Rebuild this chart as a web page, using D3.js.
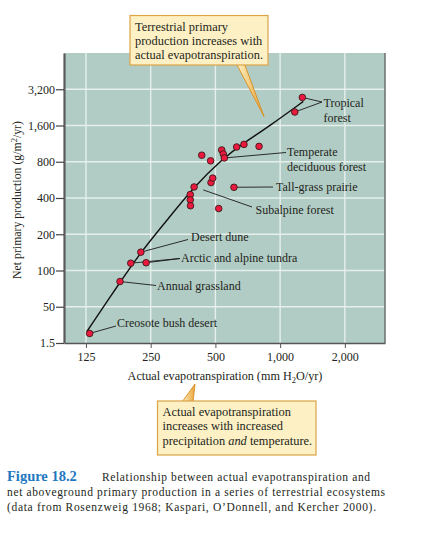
<!DOCTYPE html>
<html>
<head>
<meta charset="utf-8">
<script src="https://cdn.jsdelivr.net/npm/d3@7"></script>
<style>
  body { margin: 0; background: #fff; }
  svg text { font-family: "Liberation Serif", "Times New Roman", serif; fill: #231f20; }
</style>
</head>
<body>
<div id="container"></div>
<script>
/* CONSTANTS AND GLOBALS */
const width = 424,
  height = 535,
  margin = { top: 53, bottom: 192, left: 64, right: 39 },
  radius = 3.3;

/* DATA */
// ecosystems: actual evapotranspiration (mm/yr) vs net primary production (g/m2/yr)
const aet = [130, 180, 202, 225, 238, 382, 382, 383, 398, 432, 475, 477, 486, 518,
  535, 544, 550, 628, 679, 798, 610, 1170, 1269];
const npp = [30, 81, 115, 142, 116, 427, 386, 345, 494, 907, 814, 537, 585, 327,
  1002, 929, 860, 1061, 1115, 1073, 491, 2070, 2736];

// fitted curve as drawn in the figure
const curveAet = [126, 181, 225, 297, 395, 544, 674, 897, 1282];
const curveNpp = [31, 81, 142, 260, 491, 860, 1137, 1594, 2535];

// axis ticks
const xTicks = [125, 250, 500, 1000, 2000];
const xTickLabels = ["125", "250", "500", "1,000", "2,000"];
const yTicks = [25, 50, 100, 200, 400, 800, 1600, 3200];
const yTickLabels = ["1.5", "50", "100", "200", "400", "800", "1,600", "3,200"];

// labelled ecosystems: label lines, which points the leaders go to
const labelNames = [["Tropical", "forest"], ["Temperate", "deciduous forest"], ["Tall-grass prairie"],
  ["Subalpine forest"], ["Desert dune"], ["Arctic and alpine tundra"], ["Annual grassland"],
  ["Creosote bush desert"]];
const labelTargets = [[22, 21], [16], [20], [], [3], [2, 4], [1], [0]];
// subalpine leader ends in the cluster, not on a point
const subalpineTarget = { aet: 439, npp: 467 };

/* SCALES */
const xScale = d3.scaleLog()
  .domain([98.8, 3075])
  .range([margin.left, width - margin.right]);

const yScale = d3.scaleLog()
  .base(2)
  .domain([25, 6400])
  .range([height - margin.bottom, margin.top]);

/* HTML ELEMENTS */
const svg = d3.select("#container")
  .append("svg")
  .attr("width", width)
  .attr("height", height);

const defs = svg.append("defs");
const grad = defs.append("linearGradient")
  .attr("id", "ptr")
  .attr("x1", "0").attr("x2", "1").attr("y1", "0").attr("y2", "0");
grad.append("stop").attr("offset", "0%").attr("stop-color", "#fff2c4");
grad.append("stop").attr("offset", "100%").attr("stop-color", "#e9a43a");

// panel
svg.append("rect")
  .attr("x", margin.left)
  .attr("y", margin.top)
  .attr("width", width - margin.left - margin.right)
  .attr("height", height - margin.top - margin.bottom)
  .attr("fill", "#b1ccc4");

// gridlines
svg.append("g")
  .selectAll("line")
  .data(xTicks)
  .join("line")
  .attr("x1", d => xScale(d)).attr("x2", d => xScale(d))
  .attr("y1", margin.top).attr("y2", height - margin.bottom)
  .attr("stroke", "#e6efec").attr("stroke-width", 1.4);

svg.append("g")
  .selectAll("line")
  .data(yTicks.slice(1))
  .join("line")
  .attr("x1", margin.left).attr("x2", width - margin.right)
  .attr("y1", d => yScale(d)).attr("y2", d => yScale(d))
  .attr("stroke", "#e6efec").attr("stroke-width", 1.4);

// right edge shadow
svg.append("line")
  .attr("x1", width - margin.right).attr("x2", width - margin.right)
  .attr("y1", margin.top).attr("y2", height - margin.bottom)
  .attr("stroke", "#6b6f6e").attr("stroke-width", 1.5);

// axes
const xAxis = d3.axisBottom(xScale)
  .tickValues(xTicks)
  .tickFormat((d, i) => xTickLabels[i])
  .tickSize(5)
  .tickSizeOuter(0);

const gx = svg.append("g")
  .attr("transform", `translate(0,${height - margin.bottom})`)
  .call(xAxis);
gx.select(".domain").attr("stroke", "#555").attr("stroke-width", 1.5);
gx.selectAll(".tick line").attr("stroke", "#555");
gx.selectAll(".tick text")
  .attr("font-size", 12)
  .attr("fill", "#231f20")
  .attr("dy", "0.85em");

const yAxis = d3.axisLeft(yScale)
  .tickValues(yTicks)
  .tickFormat((d, i) => yTickLabels[i])
  .tickSize(8)
  .tickSizeOuter(0);

const gy = svg.append("g")
  .attr("transform", `translate(${margin.left},0)`)
  .call(yAxis);
gy.select(".domain").attr("stroke", "#5a5a5a").attr("stroke-width", 2.2);
gy.selectAll(".tick line").attr("stroke", "#444").attr("stroke-width", 1.2);
gy.selectAll(".tick text")
  .attr("font-size", 12)
  .attr("fill", "#231f20")
  .attr("x", -9);

// axis titles
const xt = svg.append("text")
  .attr("x", 225)
  .attr("y", 380)
  .attr("text-anchor", "middle")
  .attr("font-size", 12.2);
xt.append("tspan").text("Actual evapotranspiration (mm H");
xt.append("tspan").attr("font-size", 8.5).attr("dy", 3).text("2");
xt.append("tspan").attr("dy", -3).text("O/yr)");

const yt = svg.append("text")
  .attr("transform", "translate(21,200) rotate(-90)")
  .attr("text-anchor", "middle")
  .attr("font-size", 11.8);
yt.append("tspan").text("Net primary production (g/m");
yt.append("tspan").attr("font-size", 8.5).attr("dy", -4).text("2");
yt.append("tspan").attr("dy", 4).text("/yr)");

// fitted curve
const line = d3.line()
  .x(d => xScale(d[0]))
  .y(d => yScale(d[1]))
  .curve(d3.curveBasis);

svg.append("path")
  .datum(curveAet.map((a, i) => [a, curveNpp[i]]))
  .attr("d", line)
  .attr("fill", "none")
  .attr("stroke", "#111")
  .attr("stroke-width", 1.4);

// label text positions (left x, first baseline)
const labelPos = [[323.5, 107], [287, 156], [276, 190.5], [255.5, 213.5], [191, 240.5],
  [181, 262], [157, 289.5], [117, 326.5]];
// where leaders leave the text
const leaderStart = [[322, 102], [286, 152.5], [273, 187], [252, 207], [188, 239.5],
  [180, 258.5], [156, 285.5], [116, 326]];

const leaders = svg.append("g");
labelNames.forEach((lines, k) => {
  const targets = labelTargets[k].map(i => [xScale(aet[i]), yScale(npp[i])]);
  if (targets.length === 0) targets.push([xScale(subalpineTarget.aet), yScale(subalpineTarget.npp)]);
  targets.forEach(t => {
    leaders.append("line")
      .attr("x1", leaderStart[k][0]).attr("y1", leaderStart[k][1])
      .attr("x2", t[0]).attr("y2", t[1])
      .attr("stroke", "#1a1a1a").attr("stroke-width", 0.9);
  });
  const txt = svg.append("text")
    .attr("x", labelPos[k][0])
    .attr("y", labelPos[k][1])
    .attr("font-size", 12);
  lines.forEach((s, j) => {
    txt.append("tspan")
      .attr("x", labelPos[k][0])
      .attr("dy", j === 0 ? 0 : 14.8)
      .text(s);
  });
});

// points
svg.append("g")
  .selectAll("circle")
  .data(aet.map((a, i) => ({ aet: a, npp: npp[i] })))
  .join("circle")
  .attr("cx", d => xScale(d.aet))
  .attr("cy", d => yScale(d.npp))
  .attr("r", radius)
  .attr("fill", "#ea1a3e")
  .attr("stroke", "#3b1a1a")
  .attr("stroke-width", 0.9);

/* CALLOUTS */
function callout(box, pointer, lines) {
  svg.append("path")
    .attr("d", d3.line()(pointer) + "Z")
    .attr("fill", "url(#ptr)")
    .attr("stroke", "#d88c1c")
    .attr("stroke-width", 0.9);
  svg.append("rect")
    .attr("x", box[0]).attr("y", box[1])
    .attr("width", box[2]).attr("height", box[3])
    .attr("fill", "#fdf0c4")
    .attr("stroke", "#dba447")
    .attr("stroke-width", 1.2);
  const t = svg.append("text")
    .attr("x", box[0] + 5)
    .attr("y", box[1] + 15)
    .attr("font-size", 12.4);
  lines.forEach((parts, j) => {
    parts.forEach((p, m) => {
      const ts = t.append("tspan").text(p.text);
      if (m === 0) ts.attr("x", box[0] + 5).attr("dy", j === 0 ? 0 : 14.3);
      if (p.italic) ts.attr("font-style", "italic");
    });
  });
}

callout([130, 15.5, 138, 49.5], [[236.5, 64], [244.5, 64], [264, 116.5]], [
  [{ text: "Terrestrial primary" }],
  [{ text: "production increases with" }],
  [{ text: "actual evapotranspiration." }]
]);

callout([157.5, 401, 158.5, 54], [[182, 402], [193, 402], [195, 384]], [
  [{ text: "Actual evapotranspiration" }],
  [{ text: "increases with increased" }],
  [{ text: "precipitation " }, { text: "and", italic: true }, { text: " temperature." }]
]);

/* CAPTION */
svg.append("text")
  .attr("x", 7)
  .attr("y", 481)
  .attr("font-size", 14.5)
  .attr("font-weight", "bold")
  .style("fill", "#1f78c1")
  .text("Figure 18.2");

const captionLines = [
  "Relationship between actual evapotranspiration and",
  "net aboveground primary production in a series of terrestrial ecosystems",
  "(data from Rosenzweig 1968; Kaspari, O\u2019Donnell, and Kercher 2000)."
];
const captionX = [102, 7, 7];
const captionW = [268, 378, 369];
captionLines.forEach((s, i) => {
  svg.append("text")
    .attr("x", captionX[i])
    .attr("y", 481 + i * 15)
    .attr("font-size", 11.5)
    .attr("textLength", captionW[i])
    .attr("lengthAdjust", "spacing")
    .text(s);
});
</script>
</body>
</html>
